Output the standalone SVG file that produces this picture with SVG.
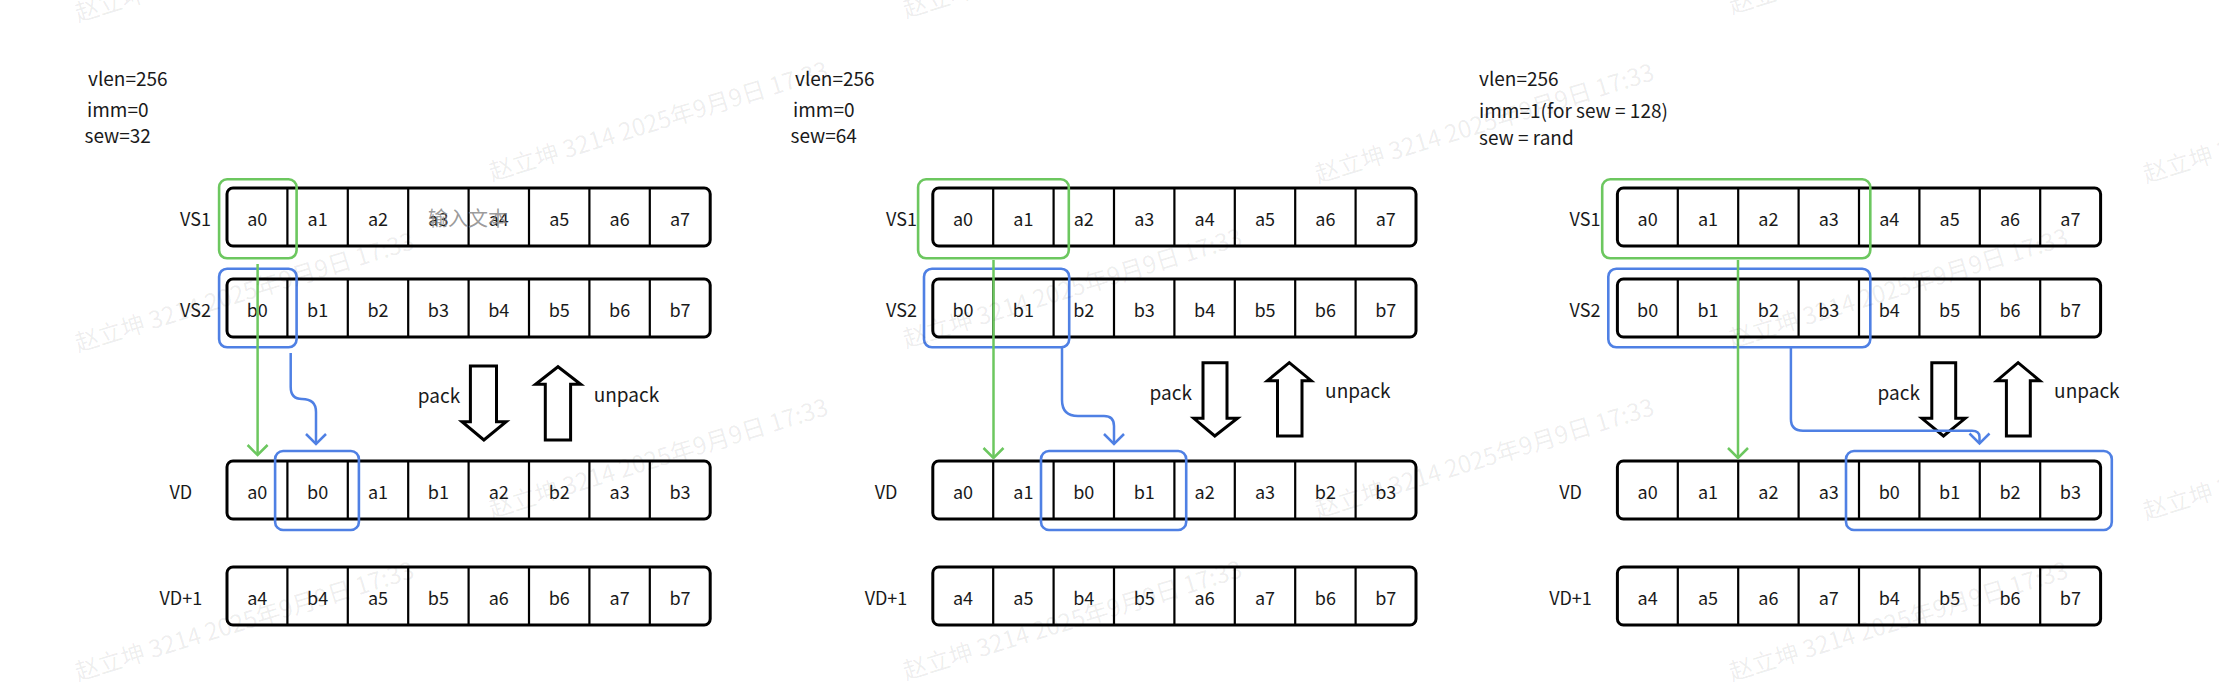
<svg xmlns="http://www.w3.org/2000/svg" width="2219" height="682" viewBox="0 0 2219 682">
<style>
text{font-family:'Noto Sans CJK SC','Noto Sans',sans-serif}
.row{fill:#fff;stroke:#000;stroke-width:3}
.dv{fill:none;stroke:#000;stroke-width:2.2}
.c{font-size:18px;text-anchor:middle;fill:#1a1a1a}
.lb{font-size:18px;text-anchor:middle;fill:#1a1a1a}
.pm{font-size:19px;fill:#1a1a1a}
.op{font-size:19px;fill:#1a1a1a}
.hg{fill:none;stroke:#6cc75f;stroke-width:2.6}
.hb{fill:none;stroke:#4f80e4;stroke-width:2.6}
.cg{fill:none;stroke:#6cc75f;stroke-width:2.5}
.cb{fill:none;stroke:#4f80e4;stroke-width:2.5}
.blk{fill:#fff;stroke:#000;stroke-width:3;stroke-linejoin:miter}
.ph{font-size:20px;text-anchor:middle;fill:#8a8a8a;fill-opacity:0.85}
.wm{font-size:24px;fill:#000;fill-opacity:0.075}
</style>
<defs>
<marker id="mg" viewBox="-12 -12 14 24" markerWidth="14" markerHeight="24" refX="0" refY="0" orient="auto" markerUnits="userSpaceOnUse"><path d="M-10,-10 L0,0 L-10,10" fill="none" stroke="#6cc75f" stroke-width="2.5"/></marker>
<marker id="mb" viewBox="-12 -12 14 24" markerWidth="14" markerHeight="24" refX="0" refY="0" orient="auto" markerUnits="userSpaceOnUse"><path d="M-10,-10 L0,0 L-10,10" fill="none" stroke="#4f80e4" stroke-width="2.5"/></marker>
</defs>
<rect width="2219" height="682" fill="#fff"/>

<!-- ===== Panel 1 ===== -->
<g id="p1-params">
<text class="pm" x="88" y="86">vlen=256</text>
<text class="pm" x="87" y="117">imm=0</text>
<text class="pm" x="84.5" y="143">sew=32</text>
</g>
<g id="p1-vs1">
<text class="lb" x="195.5" y="226">VS1</text>
<rect class="row" x="227" y="188" width="483.2" height="58" rx="6"/>
<path class="dv" d="M287.4,188V246M347.8,188V246M408.2,188V246M468.6,188V246M529,188V246M589.4,188V246M649.8,188V246"/>
<text class="c" x="257.2" y="226">a0</text><text class="c" x="317.6" y="226">a1</text><text class="c" x="378" y="226">a2</text><text class="c" x="438.4" y="226">a3</text><text class="c" x="498.8" y="226">a4</text><text class="c" x="559.2" y="226">a5</text><text class="c" x="619.6" y="226">a6</text><text class="c" x="680" y="226">a7</text>
<text class="ph" x="468" y="226">输入文本</text>
</g>
<g id="p1-vs2">
<text class="lb" x="195.5" y="317">VS2</text>
<rect class="row" x="227" y="279" width="483.2" height="58" rx="6"/>
<path class="dv" d="M287.4,279V337M347.8,279V337M408.2,279V337M468.6,279V337M529,279V337M589.4,279V337M649.8,279V337"/>
<text class="c" x="257.2" y="317">b0</text><text class="c" x="317.6" y="317">b1</text><text class="c" x="378" y="317">b2</text><text class="c" x="438.4" y="317">b3</text><text class="c" x="498.8" y="317">b4</text><text class="c" x="559.2" y="317">b5</text><text class="c" x="619.6" y="317">b6</text><text class="c" x="680" y="317">b7</text>
</g>
<g id="p1-vd">
<text class="lb" x="180.8" y="499">VD</text>
<rect class="row" x="227" y="461" width="483.2" height="58" rx="6"/>
<path class="dv" d="M287.4,461V519M347.8,461V519M408.2,461V519M468.6,461V519M529,461V519M589.4,461V519M649.8,461V519"/>
<text class="c" x="257.2" y="499">a0</text><text class="c" x="317.6" y="499">b0</text><text class="c" x="378" y="499">a1</text><text class="c" x="438.4" y="499">b1</text><text class="c" x="498.8" y="499">a2</text><text class="c" x="559.2" y="499">b2</text><text class="c" x="619.6" y="499">a3</text><text class="c" x="680" y="499">b3</text>
</g>
<g id="p1-vd1">
<text class="lb" x="180.8" y="605">VD+1</text>
<rect class="row" x="227" y="567" width="483.2" height="58" rx="6"/>
<path class="dv" d="M287.4,567V625M347.8,567V625M408.2,567V625M468.6,567V625M529,567V625M589.4,567V625M649.8,567V625"/>
<text class="c" x="257.2" y="605">a4</text><text class="c" x="317.6" y="605">b4</text><text class="c" x="378" y="605">a5</text><text class="c" x="438.4" y="605">b5</text><text class="c" x="498.8" y="605">a6</text><text class="c" x="559.2" y="605">b6</text><text class="c" x="680" y="605">b7</text><text class="c" x="619.6" y="605">a7</text>
</g>
<g id="p1-highlights">
<rect class="hg" x="219.1" y="179.3" width="77.5" height="79" rx="8"/>
<rect class="hb" x="219.1" y="268.7" width="77.5" height="78.6" rx="8"/>
<rect class="hb" x="275.1" y="451" width="83.8" height="79" rx="8"/>
</g>
<g id="p1-pack">
<polygon class="blk" points="470.4,366 496.5,366 496.5,421.7 506.2,421.7 483.9,440 462,421.7 470.4,421.7"/>
<text class="op" x="417.8" y="403">pack</text>
</g>
<g id="p1-unpack">
<polygon class="blk" points="545.3,440 570.6,440 570.6,384.3 580.7,384.3 558,366.7 535.6,384.3 545.3,384.3"/>
<text class="op" x="593.7" y="401.5">unpack</text>
</g>

<!-- ===== Panel 2 ===== -->
<g id="p2-params">
<text class="pm" x="795" y="86">vlen=256</text>
<text class="pm" x="793" y="117">imm=0</text>
<text class="pm" x="790.5" y="143">sew=64</text>
</g>
<g id="p2-vs1">
<text class="lb" x="901.5" y="226">VS1</text>
<rect class="row" x="932.8" y="188" width="483.2" height="58" rx="6"/>
<path class="dv" d="M993.2,188V246M1053.6,188V246M1114,188V246M1174.4,188V246M1234.8,188V246M1295.2,188V246M1355.6,188V246"/>
<text class="c" x="963" y="226">a0</text><text class="c" x="1023.4" y="226">a1</text><text class="c" x="1083.8" y="226">a2</text><text class="c" x="1144.2" y="226">a3</text><text class="c" x="1204.6" y="226">a4</text><text class="c" x="1265" y="226">a5</text><text class="c" x="1325.4" y="226">a6</text><text class="c" x="1385.8" y="226">a7</text>
</g>
<g id="p2-vs2">
<text class="lb" x="901.5" y="317">VS2</text>
<rect class="row" x="932.8" y="279" width="483.2" height="58" rx="6"/>
<path class="dv" d="M993.2,279V337M1053.6,279V337M1114,279V337M1174.4,279V337M1234.8,279V337M1295.2,279V337M1355.6,279V337"/>
<text class="c" x="963" y="317">b0</text><text class="c" x="1023.4" y="317">b1</text><text class="c" x="1083.8" y="317">b2</text><text class="c" x="1144.2" y="317">b3</text><text class="c" x="1204.6" y="317">b4</text><text class="c" x="1265" y="317">b5</text><text class="c" x="1325.4" y="317">b6</text><text class="c" x="1385.8" y="317">b7</text>
</g>
<g id="p2-vd">
<text class="lb" x="886" y="499">VD</text>
<rect class="row" x="932.8" y="461" width="483.2" height="58" rx="6"/>
<path class="dv" d="M993.2,461V519M1053.6,461V519M1114,461V519M1174.4,461V519M1234.8,461V519M1295.2,461V519M1355.6,461V519"/>
<text class="c" x="963" y="499">a0</text><text class="c" x="1023.4" y="499">a1</text><text class="c" x="1083.8" y="499">b0</text><text class="c" x="1144.2" y="499">b1</text><text class="c" x="1204.6" y="499">a2</text><text class="c" x="1265" y="499">a3</text><text class="c" x="1325.4" y="499">b2</text><text class="c" x="1385.8" y="499">b3</text>
</g>
<g id="p2-vd1">
<text class="lb" x="886" y="605">VD+1</text>
<rect class="row" x="932.8" y="567" width="483.2" height="58" rx="6"/>
<path class="dv" d="M993.2,567V625M1053.6,567V625M1114,567V625M1174.4,567V625M1234.8,567V625M1295.2,567V625M1355.6,567V625"/>
<text class="c" x="963" y="605">a4</text><text class="c" x="1023.4" y="605">a5</text><text class="c" x="1083.8" y="605">b4</text><text class="c" x="1144.2" y="605">b5</text><text class="c" x="1204.6" y="605">a6</text><text class="c" x="1265" y="605">a7</text><text class="c" x="1325.4" y="605">b6</text><text class="c" x="1385.8" y="605">b7</text>
</g>
<g id="p2-highlights">
<rect class="hg" x="918.1" y="179.3" width="150.7" height="79" rx="8"/>
<rect class="hb" x="924" y="268.7" width="145.2" height="78.6" rx="8"/>
<rect class="hb" x="1041" y="451" width="145.2" height="79" rx="8"/>
</g>
<g id="p2-pack">
<polygon class="blk" points="1203,362.7 1227,362.7 1227,418.3 1237.5,418.3 1214.8,436 1193.8,418.3 1203,418.3"/>
<text class="op" x="1149.6" y="400">pack</text>
</g>
<g id="p2-unpack">
<polygon class="blk" points="1277.5,436 1302,436 1302,380.7 1311.2,380.7 1289.3,362.7 1267.4,380.7 1277.5,380.7"/>
<text class="op" x="1325.1" y="398">unpack</text>
</g>

<!-- ===== Panel 3 ===== -->
<g id="p3-params">
<text class="pm" x="1479" y="86">vlen=256</text>
<text class="pm" x="1479" y="118">imm=1(for sew = 128)</text>
<text class="pm" x="1479" y="145">sew = rand</text>
</g>
<g id="p3-vs1">
<text class="lb" x="1585" y="226">VS1</text>
<rect class="row" x="1617.4" y="188" width="483.2" height="58" rx="6"/>
<path class="dv" d="M1677.8,188V246M1738.2,188V246M1798.6,188V246M1859,188V246M1919.4,188V246M1979.8,188V246M2040.2,188V246"/>
<text class="c" x="1647.6" y="226">a0</text><text class="c" x="1708" y="226">a1</text><text class="c" x="1768.4" y="226">a2</text><text class="c" x="1828.8" y="226">a3</text><text class="c" x="1889.2" y="226">a4</text><text class="c" x="1949.6" y="226">a5</text><text class="c" x="2010" y="226">a6</text><text class="c" x="2070.4" y="226">a7</text>
</g>
<g id="p3-vs2">
<text class="lb" x="1585" y="317">VS2</text>
<rect class="row" x="1617.4" y="279" width="483.2" height="58" rx="6"/>
<path class="dv" d="M1677.8,279V337M1738.2,279V337M1798.6,279V337M1859,279V337M1919.4,279V337M1979.8,279V337M2040.2,279V337"/>
<text class="c" x="1647.6" y="317">b0</text><text class="c" x="1708" y="317">b1</text><text class="c" x="1768.4" y="317">b2</text><text class="c" x="1828.8" y="317">b3</text><text class="c" x="1889.2" y="317">b4</text><text class="c" x="1949.6" y="317">b5</text><text class="c" x="2010" y="317">b6</text><text class="c" x="2070.4" y="317">b7</text>
</g>
<g id="p3-vd">
<text class="lb" x="1570.5" y="499">VD</text>
<rect class="row" x="1617.4" y="461" width="483.2" height="58" rx="6"/>
<path class="dv" d="M1677.8,461V519M1738.2,461V519M1798.6,461V519M1859,461V519M1919.4,461V519M1979.8,461V519M2040.2,461V519"/>
<text class="c" x="1647.6" y="499">a0</text><text class="c" x="1708" y="499">a1</text><text class="c" x="1768.4" y="499">a2</text><text class="c" x="1828.8" y="499">a3</text><text class="c" x="1889.2" y="499">b0</text><text class="c" x="1949.6" y="499">b1</text><text class="c" x="2010" y="499">b2</text><text class="c" x="2070.4" y="499">b3</text>
</g>
<g id="p3-vd1">
<text class="lb" x="1570.5" y="605">VD+1</text>
<rect class="row" x="1617.4" y="567" width="483.2" height="58" rx="6"/>
<path class="dv" d="M1677.8,567V625M1738.2,567V625M1798.6,567V625M1859,567V625M1919.4,567V625M1979.8,567V625M2040.2,567V625"/>
<text class="c" x="1647.6" y="605">a4</text><text class="c" x="1708" y="605">a5</text><text class="c" x="1768.4" y="605">a6</text><text class="c" x="1828.8" y="605">a7</text><text class="c" x="1889.2" y="605">b4</text><text class="c" x="1949.6" y="605">b5</text><text class="c" x="2010" y="605">b6</text><text class="c" x="2070.4" y="605">b7</text>
</g>
<g id="p3-highlights">
<rect class="hg" x="1602.2" y="179.3" width="268.1" height="79" rx="8"/>
<rect class="hb" x="1608.3" y="268.7" width="262" height="78.6" rx="8"/>
<rect class="hb" x="1846" y="451" width="265.8" height="79" rx="8"/>
</g>
<g id="p3-pack">
<polygon class="blk" points="1931.8,362.7 1955.7,362.7 1955.7,418.3 1965.2,418.3 1943.5,436 1921.9,418.3 1931.8,418.3"/>
<text class="op" x="1877.6" y="400">pack</text>
</g>
<g id="p3-unpack">
<polygon class="blk" points="2006.4,436 2030.3,436 2030.3,380.7 2039.8,380.7 2018.1,362.7 1996.9,380.7 2006.4,380.7"/>
<text class="op" x="2054.1" y="398">unpack</text>
</g>

<!-- ===== Connectors ===== -->
<g id="connectors">
<path class="cg" d="M257.6,264V455" marker-end="url(#mg)"/>
<path class="cb" d="M290.7,353V387Q290.7,399 302,399Q316,399 316,412V444" marker-end="url(#mb)"/>
<path class="cg" d="M993.5,260V458" marker-end="url(#mg)"/>
<path class="cb" d="M1062,347V400Q1062,416 1078,416H1104Q1114,416 1114,426V444" marker-end="url(#mb)"/>
<path class="cg" d="M1738,260V458" marker-end="url(#mg)"/>
<path class="cb" d="M1790.9,347V419Q1790.9,430.7 1803,430.7H1972Q1979.5,430.7 1979.5,437V443.5" marker-end="url(#mb)"/>
</g>

<!-- ===== Watermark ===== -->
<g id="watermark">
<text class="wm" transform="translate(78,22) rotate(-17)">赵立坤 3214 2025年9月9日 17:33</text>
<text class="wm" transform="translate(78,352) rotate(-17)">赵立坤 3214 2025年9月9日 17:33</text>
<text class="wm" transform="translate(78,681) rotate(-17)">赵立坤 3214 2025年9月9日 17:33</text>
<text class="wm" transform="translate(492,181) rotate(-17)">赵立坤 3214 2025年9月9日 17:33</text>
<text class="wm" transform="translate(492,518) rotate(-17)">赵立坤 3214 2025年9月9日 17:33</text>
<text class="wm" transform="translate(906,18) rotate(-17)">赵立坤 3214 2025年9月9日 17:33</text>
<text class="wm" transform="translate(906,348) rotate(-17)">赵立坤 3214 2025年9月9日 17:33</text>
<text class="wm" transform="translate(906,680) rotate(-17)">赵立坤 3214 2025年9月9日 17:33</text>
<text class="wm" transform="translate(1318,183) rotate(-17)">赵立坤 3214 2025年9月9日 17:33</text>
<text class="wm" transform="translate(1318,518) rotate(-17)">赵立坤 3214 2025年9月9日 17:33</text>
<text class="wm" transform="translate(1732,14) rotate(-17)">赵立坤 3214 2025年9月9日 17:33</text>
<text class="wm" transform="translate(1732,348) rotate(-17)">赵立坤 3214 2025年9月9日 17:33</text>
<text class="wm" transform="translate(1732,681) rotate(-17)">赵立坤 3214 2025年9月9日 17:33</text>
<text class="wm" transform="translate(2146,183) rotate(-17)">赵立坤 3214 2025年9月9日 17:33</text>
<text class="wm" transform="translate(2146,520) rotate(-17)">赵立坤 3214 2025年9月9日 17:33</text>
</g>
</svg>
